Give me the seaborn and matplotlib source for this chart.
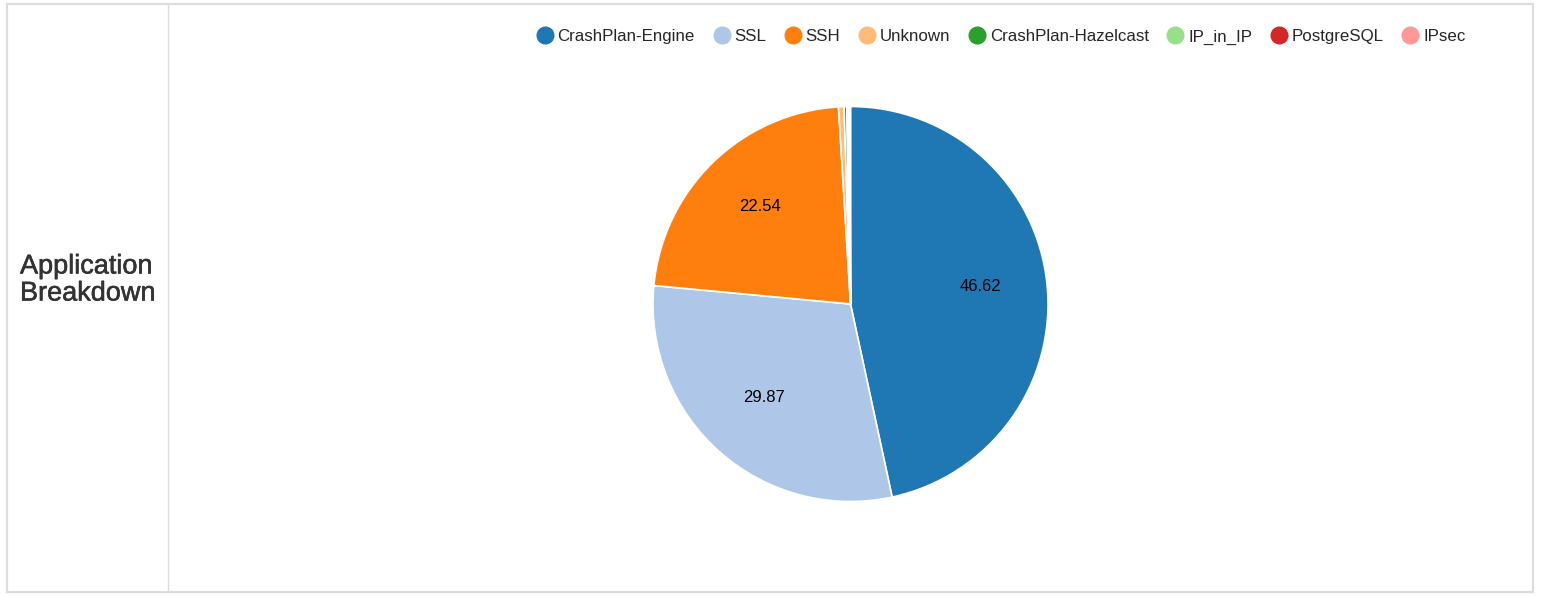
import matplotlib
matplotlib.use("Agg")
import matplotlib.pyplot as plt
import matplotlib.patheffects as pe
import seaborn as sns
from matplotlib.lines import Line2D
from matplotlib.patches import Rectangle

categories = ["CrashPlan-Engine", "SSL", "SSH", "Unknown", "CrashPlan-Hazelcast",
              "IP_in_IP", "PostgreSQL", "IPsec"]
values = [46.62, 29.87, 22.54, 0.45, 0.22, 0.15, 0.09, 0.06]
title_text = "Application\nBreakdown"

sns.set_theme(style="white")
plt.rcParams['font.family'] = ['Liberation Sans', 'DejaVu Sans']

colors = sns.color_palette("tab20", 8)

W, H = 1542, 596
fig = plt.figure(figsize=(W / 100, H / 100), dpi=100)

# outer frame and left cell
border = "#dddddd"
fig.add_artist(Rectangle((7 / W, 4 / H), (1533 - 7) / W, (592 - 4) / H, transform=fig.transFigure,
                         fill=False, edgecolor=border, linewidth=1.6))
fig.add_artist(Line2D([167.5 / W, 167.5 / W], [4 / H, 592 / H], transform=fig.transFigure,
                      color=border, linewidth=1.0))

fig.text(20 / W, 1 - 280 / H, title_text, ha="left", va="center", fontsize=19.5,
         color="#333333", linespacing=1.05,
         path_effects=[pe.withStroke(linewidth=0.4, foreground="#333333")])

cx, cy, r = 850.5, 304, 197.5
ax = fig.add_axes([(cx - r) / W, (H - cy - r) / H, 2 * r / W, 2 * r / H])
labels = [f"{v:.2f}" if v > 5 else "" for v in values]
wedges, texts = ax.pie(values, colors=colors, startangle=90, counterclock=False,
                       labels=labels, labeldistance=0.66,
                       wedgeprops=dict(edgecolor="white", linewidth=1.2),
                       textprops=dict(fontsize=12, color="black"))
for t in texts:
    t.set_ha("center")
    t.set_va("center")
    x, y = t.get_position()
    t.set_position((x, y + 0.02))
ax.set_xlim(-1, 1)
ax.set_ylim(-1, 1)
ax.set_aspect("equal")
ax.axis("off")

handles = [Line2D([0], [0], marker="o", linestyle="", markersize=12,
                  markerfacecolor=c, markeredgecolor=c) for c in colors]
fig.legend(handles, categories, loc="center", bbox_to_anchor=(1000 / W, 1 - 37 / H),
           ncol=len(categories), frameon=False, fontsize=12.2, handletextpad=0.15,
           columnspacing=0.98, handlelength=1.2, borderaxespad=0, borderpad=0)

fig.savefig("out.png", dpi=100, facecolor="white")
